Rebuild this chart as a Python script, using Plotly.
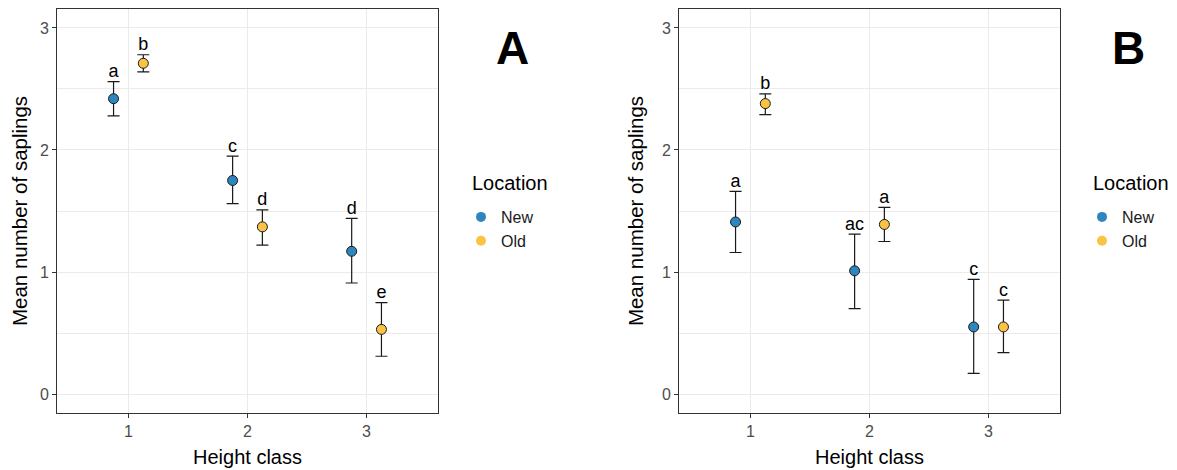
import plotly.graph_objects as go

height_class = [1, 2, 3]
locations = ["New", "Old"]
colors = {"New": "#2E86BE", "Old": "#FBC344"}
dodge = {"New": -0.125, "Old": 0.125}

# Panel A
a_mean = {"New": [2.42, 1.75, 1.17], "Old": [2.71, 1.37, 0.53]}
a_upper = {"New": [2.56, 1.95, 1.44], "Old": [2.78, 1.51, 0.75]}
a_lower = {"New": [2.28, 1.56, 0.91], "Old": [2.64, 1.22, 0.31]}
a_letters = {"New": ["a", "c", "d"], "Old": ["b", "d", "e"]}

# Panel B
b_mean = {"New": [1.41, 1.01, 0.55], "Old": [2.38, 1.39, 0.55]}
b_upper = {"New": [1.66, 1.31, 0.94], "Old": [2.46, 1.53, 0.77]}
b_lower = {"New": [1.16, 0.70, 0.17], "Old": [2.29, 1.25, 0.34]}
b_letters = {"New": ["a", "ac", "c"], "Old": ["b", "a", "c"]}

panels = [
    ("x", "y", "legend", a_mean, a_upper, a_lower, a_letters),
    ("x2", "y2", "legend2", b_mean, b_upper, b_lower, b_letters),
]

FONT = "Liberation Sans, Arial, sans-serif"
W, H = 1177, 470
OFF = 8  # page body margin offset


def px(v):
    return (v - OFF) / W


def py(v):
    return 1 - (v - OFF) / H


fig = go.Figure()

for xa, ya, leg, mean, up, lo, letters in panels:
    for loc in locations:
        xs = [h + dodge[loc] for h in height_class]
        m = mean[loc]
        fig.add_trace(go.Scatter(
            x=xs, y=m, xaxis=xa, yaxis=ya, mode="markers",
            marker=dict(size=10, color=colors[loc], line=dict(color="#1a1a1a", width=1)),
            error_y=dict(type="data", symmetric=False,
                         array=[u - v for u, v in zip(up[loc], m)],
                         arrayminus=[v - l for v, l in zip(m, lo[loc])],
                         width=6, thickness=1.2, color="#1a1a1a"),
            showlegend=False, hoverinfo="skip"))
        fig.add_trace(go.Scatter(
            x=xs, y=up[loc], xaxis=xa, yaxis=ya, mode="text",
            text=letters[loc], textposition="top center",
            textfont=dict(size=18, color="black", family=FONT),
            showlegend=False, hoverinfo="skip"))
        fig.add_trace(go.Scatter(
            x=[None], y=[None], xaxis=xa, yaxis=ya, mode="markers",
            marker=dict(size=10, color=colors[loc], line=dict(width=0)),
            name=loc, legend=leg, legendgroup=leg + loc, showlegend=True))

ydom = [py(413), py(9)]
axis_common = dict(
    showline=True, linecolor="#333333", linewidth=1, mirror=True,
    ticks="outside", ticklen=4, tickcolor="#333333",
    tickfont=dict(size=16, color="#4D4D4D", family=FONT),
    showgrid=True, gridcolor="#EBEBEB", gridwidth=1, zeroline=False,
)
xcommon = dict(axis_common, range=[0.4, 3.6], tickvals=[1, 2, 3],
               title=dict(text="Height class", font=dict(size=20, color="black", family=FONT), standoff=10))
ycommon = dict(axis_common, range=[-0.155, 3.155], tickvals=[0, 1, 2, 3],
               minor=dict(tickvals=[0.5, 1.5, 2.5], showgrid=True, gridcolor="#EBEBEB", ticks=""),
               title=dict(text="Mean number of saplings", font=dict(size=20.5, color="black", family=FONT), standoff=12))

legend_common = dict(xanchor="left", yanchor="top",
                     font=dict(size=16, color="#1a1a1a", family=FONT), bgcolor="rgba(0,0,0,0)",
                     itemwidth=30, tracegroupgap=0)

fig.update_layout(
    width=W, height=H,
    margin=dict(l=0, r=0, t=0, b=0),
    paper_bgcolor="white", plot_bgcolor="white",
    font=dict(family=FONT),
    xaxis=dict(xcommon, domain=[px(57), px(438)], anchor="y"),
    yaxis=dict(ycommon, domain=ydom, anchor="x"),
    xaxis2=dict(xcommon, domain=[px(679), px(1060)], anchor="y2"),
    yaxis2=dict(ycommon, domain=ydom, anchor="x2"),
    legend=dict(legend_common, x=px(461), y=py(200)),
    legend2=dict(legend_common, x=px(1082), y=py(200)),
    annotations=[
        dict(text="Location", x=px(470), y=py(183), xref="paper", yref="paper",
             xanchor="left", yanchor="middle", showarrow=False,
             font=dict(size=20, color="black", family=FONT)),
        dict(text="Location", x=px(1091), y=py(183), xref="paper", yref="paper",
             xanchor="left", yanchor="middle", showarrow=False,
             font=dict(size=20, color="black", family=FONT)),
        dict(text="<b>A</b>", x=px(512), y=py(48), xref="paper", yref="paper",
             xanchor="center", yanchor="middle",
             showarrow=False, font=dict(size=46, color="black", family=FONT)),
        dict(text="<b>B</b>", x=px(1128), y=py(48), xref="paper", yref="paper",
             xanchor="center", yanchor="middle",
             showarrow=False, font=dict(size=46, color="black", family=FONT)),
    ],
)

fig.write_html("out.html")
